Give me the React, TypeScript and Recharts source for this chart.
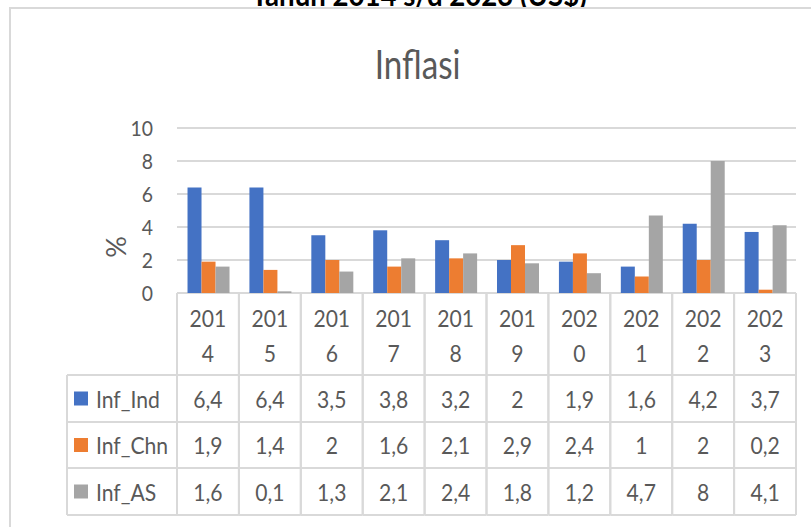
import { Bar, BarChart, CartesianGrid, Legend, XAxis, YAxis } from "recharts";

const years = ["2014", "2015", "2016", "2017", "2018", "2019", "2020", "2021", "2022", "2023"];
const infInd = [6.4, 6.4, 3.5, 3.8, 3.2, 2, 1.9, 1.6, 4.2, 3.7];
const infChn = [1.9, 1.4, 2, 1.6, 2.1, 2.9, 2.4, 1, 2, 0.2];
const infAS = [1.6, 0.1, 1.3, 2.1, 2.4, 1.8, 1.2, 4.7, 8, 4.1];
const yTicks = [0, 2, 4, 6, 8, 10];

const series = [
  { key: "Inf_Ind", values: infInd, color: "#4472C4" },
  { key: "Inf_Chn", values: infChn, color: "#ED7D31" },
  { key: "Inf_AS", values: infAS, color: "#A5A5A5" },
];

const data = years.map((year, i) => ({
  year,
  Inf_Ind: infInd[i],
  Inf_Chn: infChn[i],
  Inf_AS: infAS[i],
}));

const W = 811;
const H = 527;
const PLOT_LEFT = 177;
const PLOT_RIGHT = 796;
const PLOT_BOTTOM = 293;
const ROW_LINES = [375, 422, 468, 515];
const COL_W = (PLOT_RIGHT - PLOT_LEFT) / years.length;
const LEG_X = 66;
const LEG_Y = 374;
const TEXT = "#595959";
const LINE = "#d9d9d9";
const FONT = "Lato, 'Open Sans', sans-serif";
const SQUEEZE = 0.88; // the reference text is narrower than Lato

const fmt = (v: number) => String(v).replace(".", ",");

// svg text squeezed horizontally around its anchor
const NText = ({ x, y, anchor = "middle", size = 24, children }: any) => (
  <text
    transform={`translate(${x} ${y}) scale(${SQUEEZE} 1)`}
    x={0}
    y={0}
    textAnchor={anchor}
    dominantBaseline="central"
    fontFamily={FONT}
    fontSize={size}
    fill={TEXT}
  >
    {children}
  </text>
);

// one column of the data table under each category
const TableColumn = (props: any) => {
  const { x, payload } = props;
  const year = String(payload.value);
  const i = years.indexOf(year);
  const left = x - COL_W / 2;
  const right = x + COL_W / 2;
  return (
    <g>
      <line x1={left} x2={left} y1={PLOT_BOTTOM} y2={ROW_LINES[3]} stroke={LINE} strokeWidth={2} />
      <line x1={right} x2={right} y1={PLOT_BOTTOM} y2={ROW_LINES[3]} stroke={LINE} strokeWidth={2} />
      {ROW_LINES.map((y) => (
        <line key={y} x1={left} x2={right} y1={y} y2={y} stroke={LINE} strokeWidth={2} />
      ))}
      <NText x={x} y={318}>{year.slice(0, 3)}</NText>
      <NText x={x} y={353}>{year.slice(3)}</NText>
      {series.map((s, r) => (
        <NText key={s.key} x={x} y={(ROW_LINES[r] + ROW_LINES[r + 1]) / 2}>
          {fmt(s.values[i])}
        </NText>
      ))}
    </g>
  );
};

const YTick = (props: any) => {
  const { x, y, payload } = props;
  return (
    <NText x={x} y={y} anchor="end" size={22}>
      {payload.value}
    </NText>
  );
};

const LegendColumn = ({ payload }: any) => {
  const w = PLOT_LEFT - LEG_X + 2;
  const h = ROW_LINES[3] - LEG_Y + 2;
  const x0 = 67 - LEG_X;
  const x1 = PLOT_LEFT - LEG_X;
  const items = series
    .map((s) => (payload || []).find((p: any) => p.value === s.key))
    .filter(Boolean);
  return (
    <svg width={w} height={h} style={{ display: "block" }}>
      <line x1={x0} x2={x0} y1={ROW_LINES[0] - LEG_Y} y2={ROW_LINES[3] - LEG_Y} stroke={LINE} strokeWidth={2} />
      {ROW_LINES.map((y) => (
        <line key={y} x1={x0} x2={x1} y1={y - LEG_Y} y2={y - LEG_Y} stroke={LINE} strokeWidth={2} />
      ))}
      {items.map((p: any, r: number) => {
        const cy = (ROW_LINES[r] + ROW_LINES[r + 1]) / 2 - LEG_Y;
        return (
          <g key={p.value}>
            <rect x={74 - LEG_X} y={cy - 7} width={14} height={14} fill={p.color} />
            <NText x={96 - LEG_X} y={cy} anchor="start">
              {p.value}
            </NText>
          </g>
        );
      })}
    </svg>
  );
};

export default function App() {
  return (
    <div
      style={{
        position: "absolute",
        left: 0,
        top: 0,
        width: W,
        height: H,
        overflow: "hidden",
        background: "#fff",
      }}
    >
      <div
        style={{
          position: "absolute",
          left: 0,
          top: -21,
          width: 838,
          textAlign: "center",
          fontFamily: FONT,
          fontWeight: "bold",
          fontSize: 30,
          lineHeight: "30px",
          color: "#000",
          whiteSpace: "nowrap",
        }}
      >
        <span style={{ display: "inline-block", transform: "scaleX(0.92)" }}>
          Tahun 2014 s/d 2023 (US$)
        </span>
      </div>
      <div
        style={{
          position: "absolute",
          left: 9,
          top: 7,
          width: 830,
          height: 540,
          border: `2px solid ${LINE}`,
          background: "#fff",
        }}
      />
      <div
        style={{
          position: "absolute",
          left: 0,
          top: 44,
          width: 836,
          textAlign: "center",
          fontFamily: FONT,
          fontSize: 40,
          lineHeight: "40px",
          color: TEXT,
        }}
      >
        <span style={{ display: "inline-block", transform: "scaleX(0.83)" }}>Inflasi</span>
      </div>
      <div style={{ position: "absolute", left: 0, top: 0 }}>
        <BarChart
          width={W}
          height={H}
          data={data}
          margin={{ top: 128, right: W - PLOT_RIGHT, left: PLOT_LEFT - 60, bottom: 12 }}
          barCategoryGap="17%"
          barGap={0}
        >
          <CartesianGrid vertical={false} stroke={LINE} strokeWidth={2} />
          <XAxis
            dataKey="year"
            height={222}
            axisLine={false}
            tickLine={false}
            interval={0}
            tick={(p: any) => <TableColumn {...p} />}
          />
          <YAxis
            domain={[0, 10]}
            ticks={yTicks}
            width={60}
            axisLine={false}
            tickLine={false}
            tickSize={0}
            tickMargin={24}
            tick={(p: any) => <YTick {...p} />}
            label={{
              content: () => (
                <text
                  x={115}
                  y={247}
                  transform="rotate(-90 115 247)"
                  textAnchor="middle"
                  dominantBaseline="central"
                  fontFamily={FONT}
                  fontSize={27}
                  fill={TEXT}
                >
                  %
                </text>
              ),
            }}
          />
          <Legend
            layout="vertical"
            align="center"
            verticalAlign="middle"
            content={<LegendColumn />}
            wrapperStyle={{ left: LEG_X, top: LEG_Y, width: PLOT_LEFT - LEG_X + 2, height: ROW_LINES[3] - LEG_Y + 2 }}
          />
          {series.map((s) => (
            <Bar key={s.key} dataKey={s.key} name={s.key} fill={s.color} isAnimationActive={false} />
          ))}
        </BarChart>
      </div>
    </div>
  );
}
